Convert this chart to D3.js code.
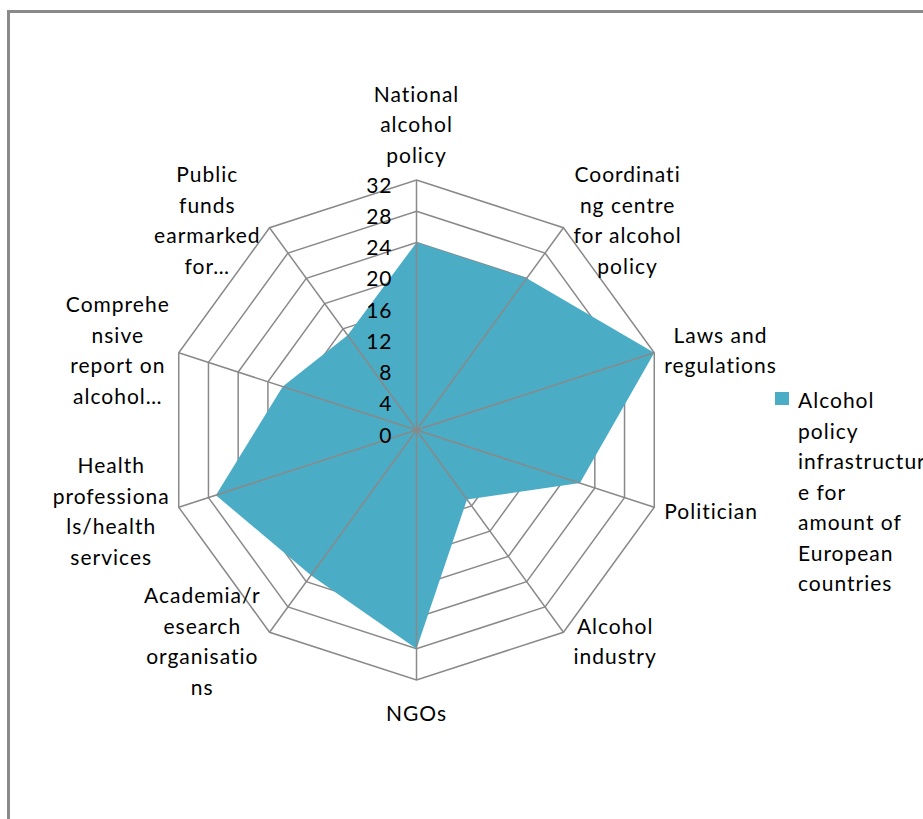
<!DOCTYPE html>
<html>
<head>
<meta charset="utf-8">
<script src="https://cdn.jsdelivr.net/npm/d3@7"></script>
<style>
  body { margin: 0; background: #fff; }
  svg { display: block; }
  text { font-family: Lato, "Open Sans", sans-serif; font-size: 21px; fill: #000; letter-spacing: 1px; }
</style>
</head>
<body>
<svg id="chart" width="923" height="819"></svg>
<script>
// Radar axes (clockwise from the top) and their wrapped display labels
const categories = [
  "National alcohol policy",
  "Coordinating centre for alcohol policy",
  "Laws and regulations",
  "Politician",
  "Alcohol industry",
  "NGOs",
  "Academia/research organisations",
  "Health professionals/health services",
  "Comprehensive report on alcohol…",
  "Public funds earmarked for…"
];
const labelLines = [
  ["National", "alcohol", "policy"],
  ["Coordinati", "ng centre", "for alcohol", "policy"],
  ["Laws and", "regulations"],
  ["Politician"],
  ["Alcohol", "industry"],
  ["NGOs"],
  ["Academia/r", "esearch", "organisatio", "ns"],
  ["Health", "professiona", "ls/health", "services"],
  ["Comprehe", "nsive", "report on", "alcohol…"],
  ["Public", "funds", "earmarked", "for…"]
];
// Number of European countries per infrastructure element
const values = [24, 24, 32, 22, 11, 28, 23, 27, 18, 15];
const ticks = [0, 4, 8, 12, 16, 20, 24, 28, 32];
const seriesName = "Alcohol policy infrastructure for amount of European countries";
const legendLines = ["Alcohol", "policy", "infrastructur", "e for", "amount of", "European", "countries"];

const W = 923, H = 819;
const cx = 416.5, cy = 430, R = 250;
const fillColor = "#4BACC6", gridColor = "#898989";
const lineH = 30.5;

const svg = d3.select("#chart");

// outer chart-area frame (runs off the right and bottom)
svg.append("rect")
  .attr("x", 8.5).attr("y", 11.5)
  .attr("width", 1000).attr("height", 1000)
  .attr("fill", "none").attr("stroke", "#8a8a8a").attr("stroke-width", 3);

const r = d3.scaleLinear().domain([0, 32]).range([0, R]);
const angle = d3.scaleLinear().domain([0, categories.length]).range([0, 2 * Math.PI]);
const pt = (i, v) => [cx + r(v) * Math.sin(angle(i)), cy - r(v) * Math.cos(angle(i))];

const g = svg.append("g");

// concentric grid polygons
const idx = d3.range(categories.length);
g.selectAll("path.ring").data(ticks.filter(t => t > 0)).join("path")
  .attr("class", "ring")
  .attr("d", t => "M" + idx.map(i => pt(i, t).join(",")).join("L") + "Z")
  .attr("fill", "none").attr("stroke", gridColor).attr("stroke-width", 1.5);

// filled series
const radial = d3.lineRadial()
  .angle((d, i) => angle(i))
  .radius(d => r(d))
  .curve(d3.curveLinearClosed);
g.append("path")
  .attr("transform", `translate(${cx},${cy})`)
  .attr("d", radial(values))
  .attr("fill", fillColor);

// spokes drawn above the fill
g.selectAll("line.spoke").data(idx).join("line")
  .attr("class", "spoke")
  .attr("x1", cx).attr("y1", cy)
  .attr("x2", i => pt(i, 32)[0]).attr("y2", i => pt(i, 32)[1])
  .attr("stroke", gridColor).attr("stroke-width", 1.5);

// value axis tick labels along the top spoke
g.selectAll("text.tick").data(ticks).join("text")
  .attr("class", "tick")
  .attr("x", cx - 24)
  .attr("y", t => cy - r(t) + 4)
  .attr("text-anchor", "end")
  .attr("dominant-baseline", "central")
  .text(t => t);

// category labels placed just outside the outer ring
idx.forEach(i => {
  const a = angle(i);
  const s = Math.sin(a), c = Math.cos(a);
  const [vx, vy] = pt(i, 32);
  const lines = labelLines[i];
  const tg = g.append("g");
  lines.forEach((ln, k) => {
    tg.append("text").attr("x", 0).attr("y", k * lineH)
      .attr("text-anchor", "middle").attr("dominant-baseline", "central").text(ln);
  });
  const bb = tg.node().getBBox();
  const w = bb.width, h = (lines.length - 1) * lineH;
  let x, y;
  if (Math.abs(s) < 0.1) {
    x = vx;
    y = c > 0 ? vy - 26 - h : vy + 32;
  } else {
    x = s > 0 ? vx + 10 + w / 2 : vx - 9 - w / 2;
    y = vy - h / 2 - c * 10;
  }
  tg.attr("transform", `translate(${x},${y})`);
});

// legend
const lg = svg.append("g").attr("transform", "translate(775,392)");
lg.append("rect").attr("width", 14).attr("height", 13).attr("fill", fillColor);
lg.append("title").text(seriesName);
legendLines.forEach((ln, k) => {
  lg.append("text").attr("x", 23).attr("y", 7.5 + k * lineH)
    .attr("dominant-baseline", "central").text(ln);
});
</script>
</body>
</html>
